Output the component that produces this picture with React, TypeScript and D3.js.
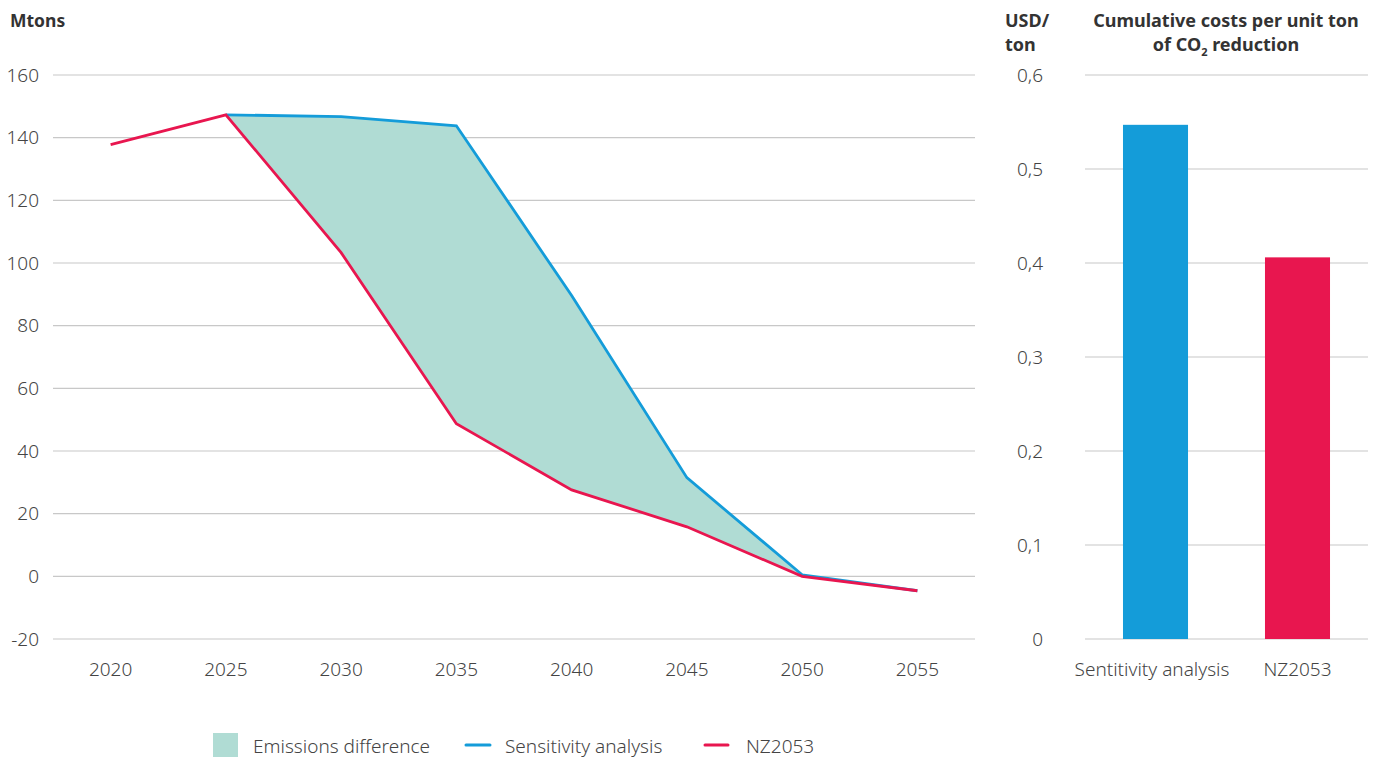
import React from "react";
import * as d3 from "d3";

const years = [2020, 2025, 2030, 2035, 2040, 2045, 2050, 2055];
const nz2053 = [137.8, 147.3, 103.3, 48.7, 27.6, 15.8, 0, -4.6];
const sensitivity = [null, 147.3, 146.7, 143.8, 89.6, 31.5, 0.5, -4.6];
const leftTicks = [-20, 0, 20, 40, 60, 80, 100, 120, 140, 160];
const barCategories = ["Sentitivity analysis", "NZ2053"];
const barValues = [0.547, 0.406];
const rightTicks = [0, 0.1, 0.2, 0.3, 0.4, 0.5, 0.6];

const BLUE = "#149CD9";
const RED = "#E8164F";
const TEAL = "#B0DCD4";
const GRID = "#C8C8C8";
const TEXT = "#444";
const FONT = "'Noto Sans', 'Open Sans', sans-serif";
const FS = 19;

export default function App() {
  const W = 1377, H = 758;
  const x = d3.scalePoint<number>().domain(years).range([53, 975]).padding(0.5);
  const y = d3.scaleLinear().domain([-20, 160]).range([639, 75]);
  const xb = d3.scaleBand<string>().domain(barCategories).range([1085, 1368]).paddingInner(0.542).paddingOuter(0.2675);
  const yb = d3.scaleLinear().domain([0, 0.6]).range([639, 75]);

  const nzPts = years.map((yr, i) => ({ yr, v: nz2053[i] }));
  const sPts = years.map((yr, i) => ({ yr, v: sensitivity[i] })).filter(d => d.v !== null) as { yr: number; v: number }[];
  const line = d3.line<{ yr: number; v: number }>().x(d => x(d.yr)!).y(d => y(d.v));
  const areaData = years.map((yr, i) => ({ yr, a: sensitivity[i], b: nz2053[i] })).filter(d => d.a !== null && d.yr <= 2050) as { yr: number; a: number; b: number }[];
  const area = d3.area<{ yr: number; a: number; b: number }>().x(d => x(d.yr)!).y0(d => y(d.b)).y1(d => y(d.a));

  const fmt = (v: number) => (v === 0 ? "0" : v.toFixed(1).replace(".", ","));

  return (
    <svg width={W} height={H} style={{ position: "absolute", left: 0, top: 0, fontFamily: FONT }}>
      <rect width={W} height={H} fill="#fff" />
      {/* Left chart */}
      <text x={10} y={27} fontSize={17.5} fontWeight={700} fill="#333">Mtons</text>
      {leftTicks.map(t => (
        <g key={t}>
          <line x1={53} x2={975} y1={y(t)} y2={y(t)} stroke={GRID} strokeWidth={1.2} />
          <text x={39} y={y(t)} dy="0.35em" textAnchor="end" fontSize={FS} fontWeight={300} fill={TEXT}>{t}</text>
        </g>
      ))}
      {years.map(yr => (
        <text key={yr} x={x(yr)!} y={669} dy="0.35em" textAnchor="middle" fontSize={FS} fontWeight={300} fill={TEXT}>{yr}</text>
      ))}
      <path d={area(areaData)!} fill={TEAL} />
      <path d={line(sPts)!} fill="none" stroke={BLUE} strokeWidth={2.8} />
      <path d={line(nzPts)!} fill="none" stroke={RED} strokeWidth={2.8} />

      {/* Right chart */}
      <text x={1005} y={27} fontSize={18} fontWeight={700} fill="#333">USD/</text>
      <text x={1005} y={51} fontSize={18} fontWeight={700} fill="#333">ton</text>
      <text x={1226} y={27} textAnchor="middle" fontSize={18} fontWeight={700} fill="#333">Cumulative costs per unit ton</text>
      <text x={1226} y={51} textAnchor="middle" fontSize={18} fontWeight={700} fill="#333">
        of CO<tspan fontSize={11} dy={5}>2</tspan><tspan dy={-5}> reduction</tspan>
      </text>
      {rightTicks.map(t => (
        <g key={t}>
          <line x1={1085} x2={1368} y1={yb(t)} y2={yb(t)} stroke={GRID} strokeWidth={1.2} />
          <text x={1043} y={yb(t)} dy="0.35em" textAnchor="end" fontSize={FS} fontWeight={300} fill={TEXT}>{fmt(t)}</text>
        </g>
      ))}
      {barCategories.map((c, i) => (
        <g key={c}>
          <rect x={xb(c)!} width={xb.bandwidth()} y={yb(barValues[i])} height={yb(0) - yb(barValues[i])} fill={i === 0 ? BLUE : RED} />
          <text x={i === 0 ? 1152 : xb(c)! + xb.bandwidth() / 2} y={669} dy="0.35em" textAnchor="middle" fontSize={FS} fontWeight={300} fill={TEXT}>{c}</text>
        </g>
      ))}

      {/* Legend */}
      <rect x={213} y={733} width={25} height={24} fill={TEAL} />
      <text x={253} y={746} dy="0.35em" fontSize={FS} fontWeight={300} fill={TEXT}>Emissions difference</text>
      <line x1={466} x2={490} y1={745} y2={745} stroke={BLUE} strokeWidth={3} strokeLinecap="round" />
      <text x={505} y={746} dy="0.35em" fontSize={FS} fontWeight={300} fill={TEXT}>Sensitivity analysis</text>
      <line x1={705} x2={728} y1={745} y2={745} stroke={RED} strokeWidth={3} strokeLinecap="round" />
      <text x={746} y={746} dy="0.35em" fontSize={FS} fontWeight={300} fill={TEXT}>NZ2053</text>
    </svg>
  );
}
